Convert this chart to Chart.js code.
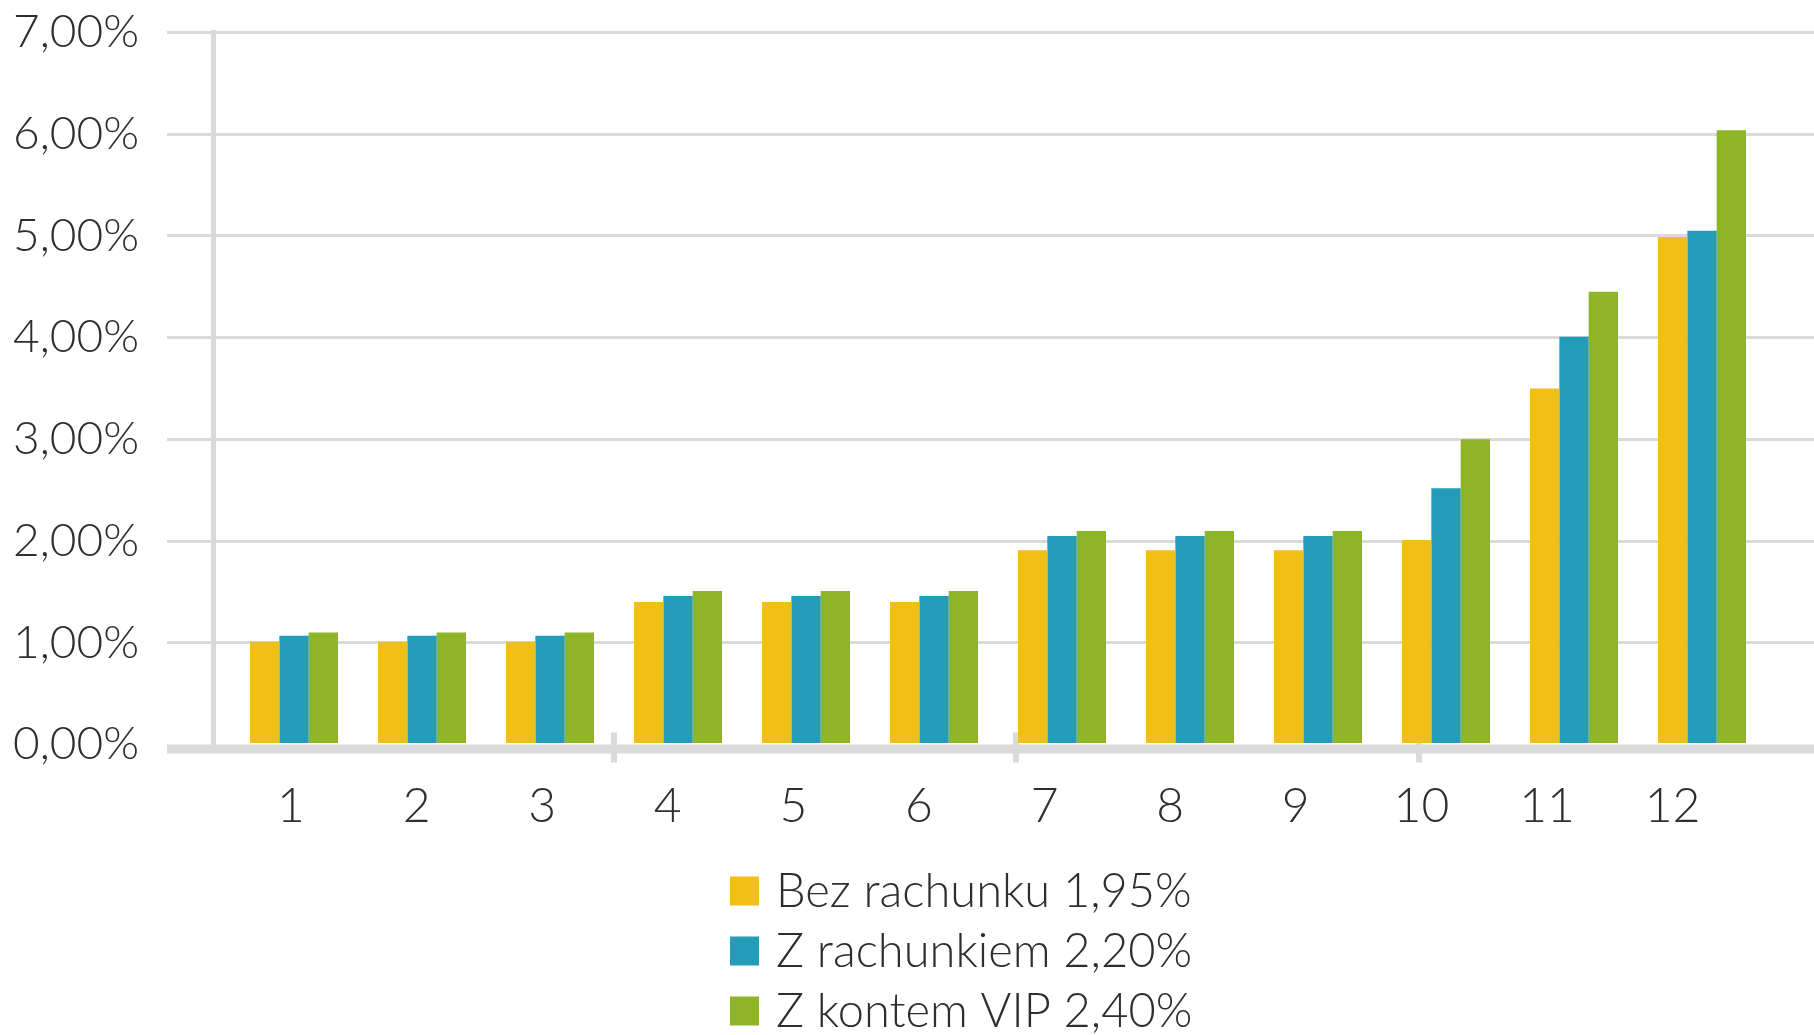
<!DOCTYPE html>
<html>
<head>
<meta charset="utf-8">
<script src="https://cdn.jsdelivr.net/npm/chart.js@4.4.1/dist/chart.umd.min.js"></script>
<style>
  html, body { margin: 0; padding: 0; background: #fff; }
  canvas { display: block; }
</style>
</head>
<body>
<canvas id="rates" width="1814" height="1035"></canvas>
<script>
// okres (miesiace) i oprocentowanie w %
const months = [1, 2, 3, 4, 5, 6, 7, 8, 9, 10, 11, 12];
const seriesNames = ["Bez rachunku 1,95%", "Z rachunkiem 2,20%", "Z kontem VIP 2,40%"];
const bezRachunku = [1.01, 1.01, 1.01, 1.40, 1.40, 1.40, 1.91, 1.91, 1.91, 2.01, 3.50, 4.99];
const zRachunkiem = [1.07, 1.07, 1.07, 1.46, 1.46, 1.46, 2.05, 2.05, 2.05, 2.52, 4.01, 5.05];
const zKontemVip  = [1.10, 1.10, 1.10, 1.51, 1.51, 1.51, 2.10, 2.10, 2.10, 3.00, 4.45, 6.04];
const yTickLabels = ["0,00%", "1,00%", "2,00%", "3,00%", "4,00%", "5,00%", "6,00%", "7,00%"];
const axisMarks = [3.5, 6.64, 9.79];

const colors = ["#f2be1a", "#249bb8", "#8eb528"];
const GRID = "#dadada";
const TEXT = "#2e2e2e";
const FONT = "Lato";

const axisBand = {
  id: "axisBand",
  beforeDatasetsDraw(chart) {
    const { ctx, chartArea: a } = chart;
    const x = chart.scales.x;
    ctx.save();
    ctx.fillStyle = GRID;
    ctx.fillRect(a.left - 46, a.bottom, a.right - a.left + 46, 9);
    axisMarks.forEach(v => {
      const px = x.getPixelForValue(v);
      ctx.fillRect(px - 3, a.bottom - 12, 6, 30);
    });
    ctx.restore();
  }
};

const sideLegend = {
  id: "sideLegend",
  afterDraw(chart) {
    const ctx = chart.ctx;
    ctx.save();
    ctx.font = "300 47px " + FONT;
    ctx.textBaseline = "middle";
    chart.data.datasets.forEach((ds, i) => {
      const cy = 891 + i * 60;
      ctx.fillStyle = ds.backgroundColor;
      ctx.fillRect(730, cy - 14.5, 29, 29);
      ctx.fillStyle = TEXT;
      ctx.fillText(ds.label, 776, cy + 1);
    });
    ctx.restore();
  }
};

const ctx = document.getElementById("rates").getContext("2d");
new Chart(ctx, {
  type: "bar",
  data: {
    labels: months,
    datasets: [
      { label: seriesNames[0], data: bezRachunku, backgroundColor: colors[0] },
      { label: seriesNames[1], data: zRachunkiem, backgroundColor: colors[1] },
      { label: seriesNames[2], data: zKontemVip, backgroundColor: colors[2] }
    ]
  },
  plugins: [axisBand, sideLegend],
  options: {
    responsive: false,
    animation: false,
    categoryPercentage: 0.6875,
    barPercentage: 1.0,
    layout: { padding: { top: 32.5, right: 0, bottom: 200, left: 0 } },
    plugins: { legend: { display: false }, tooltip: { enabled: false } },
    scales: {
      x: {
        type: "linear",
        display: false,
        offset: false,
        min: 0.367,
        max: 12.875,
        afterBuildTicks: s => { s.ticks = months.map(v => ({ value: v })); }
      },
      xl: {
        type: "linear",
        position: "bottom",
        offset: false,
        min: 0.379,
        max: 13.126,
        grid: { display: false, drawTicks: false },
        border: { display: false },
        afterBuildTicks: s => { s.ticks = months.map(v => ({ value: v })); },
        afterFit: s => { s.height = 90.5; s.paddingLeft = 0; s.paddingRight = 0; },
        ticks: {
          autoSkip: false,
          maxRotation: 0,
          padding: 33,
          color: TEXT,
          font: { family: FONT, size: 48, weight: "300" },
          callback: v => String(v)
        }
      },
      y: {
        min: 0,
        max: 7,
        afterFit: s => { s.width = 213; s.paddingTop = 0; s.paddingBottom = 0; },
        afterBuildTicks: s => { s.ticks = yTickLabels.map((t, i) => ({ value: i })); },
        grid: {
          color: c => (c.tick && c.tick.value === 0) ? "rgba(0,0,0,0)" : GRID,
          lineWidth: 3,
          drawTicks: true,
          tickLength: 46
        },
        border: { display: true, color: GRID, width: 5 },
        ticks: {
          padding: 28,
          color: TEXT,
          font: { family: FONT, size: 46, weight: "300" },
          callback: (v, i) => yTickLabels[i]
        }
      }
    }
  }
});
</script>
</body>
</html>
